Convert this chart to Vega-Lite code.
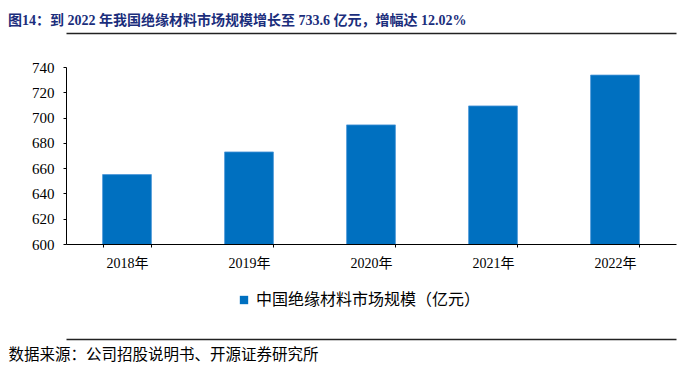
{
  "$schema": "https://vega.github.io/schema/vega-lite/v6.json",
  "autosize": {"type": "none"},
  "padding": {"left": 66, "top": 67, "right": 23, "bottom": 130},
  "width": 610,
  "height": 177,
  "background": "white",
  "title": {
    "text": "图14：到 2022 年我国绝缘材料市场规模增长至 733.6 亿元，增幅达 12.02%",
    "anchor": "start",
    "frame": "group",
    "dx": -58,
    "offset": 5,
    "font": "Liberation Serif, Noto Sans CJK SC",
    "fontSize": 14,
    "fontWeight": "bold",
    "color": "#1B2E7C"
  },
  "data": {
    "values": [
      {"year": "2018年", "value": 654.9, "series": "中国绝缘材料市场规模（亿元）"},
      {"year": "2019年", "value": 672.8, "series": "中国绝缘材料市场规模（亿元）"},
      {"year": "2020年", "value": 694.2, "series": "中国绝缘材料市场规模（亿元）"},
      {"year": "2021年", "value": 709.2, "series": "中国绝缘材料市场规模（亿元）"},
      {"year": "2022年", "value": 733.6, "series": "中国绝缘材料市场规模（亿元）"}
    ]
  },
  "config": {
    "view": {"stroke": null},
    "axis": {"grid": false, "labelColor": "#000000", "labelFont": "Liberation Serif, Noto Sans CJK SC"}
  },
  "layer": [
    {
      "mark": {"type": "bar", "stroke": "#4A95D8", "strokeWidth": 0.8, "clip": true},
      "encoding": {
        "x": {
          "field": "year", "type": "nominal", "sort": null,
          "scale": {"paddingInner": 0.6, "paddingOuter": 0.3},
          "axis": {"orient": "bottom", "title": null, "labelAngle": 0, "tickBand": "extent", "ticks": true, "tickSize": 3, "tickColor": "#000000", "labelFontSize": 14, "labelPadding": 9, "domainColor": "#000000", "domainWidth": 1}
        },
        "y": {
          "field": "value", "type": "quantitative",
          "scale": {"domain": [600, 740], "nice": false, "zero": false},
          "axis": {"title": null, "values": [600, 620, 640, 660, 680, 700, 720, 740], "domain": true, "domainColor": "#000000", "domainWidth": 1, "ticks": true, "tickColor": "#000000", "tickSize": 3, "labelFontSize": 15, "labelPadding": 9}
        },
        "color": {
          "field": "series", "type": "nominal",
          "scale": {"range": ["#0070C0"]},
          "legend": {"title": null, "orient": "none", "legendX": 170, "legendY": 225, "symbolType": "square", "symbolSize": 70, "symbolStrokeWidth": 0, "labelFontSize": 16, "labelFont": "Noto Sans CJK SC", "labelColor": "#000000", "labelLimit": 400}
        }
      }
    },
    {
      "mark": {"type": "bar", "opacity": 0, "clip": true},
      "encoding": {
        "x": {
          "field": "year", "type": "nominal", "sort": null,
          "axis": {"orient": "top", "offset": 34, "labels": false, "ticks": false, "title": null, "domainWidth": 1.5, "domainColor": "#222222"}
        }
      }
    },
    {
      "mark": {"type": "bar", "opacity": 0, "clip": true},
      "encoding": {
        "x": {
          "field": "year", "type": "nominal", "sort": null,
          "axis": {"orient": "bottom", "offset": 95, "labels": false, "ticks": false, "domainWidth": 1.5, "domainColor": "#222222",
            "title": "数据来源：公司招股说明书、开源证券研究所",
            "titleAnchor": "start", "titleAlign": "left", "titleX": -58, "titleY": 8, "titleBaseline": "top",
            "titleFont": "Noto Sans CJK SC", "titleFontSize": 15.5, "titleFontWeight": "normal", "titleColor": "#000000"}
        }
      }
    }
  ],
  "resolve": {"axis": {"x": "independent"}}
}
